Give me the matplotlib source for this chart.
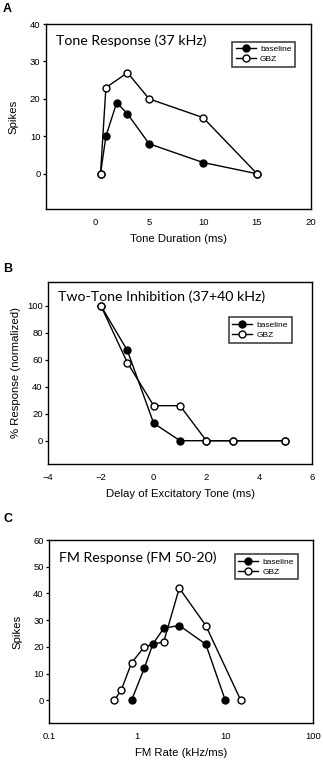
import numpy as np
import matplotlib
matplotlib.use('Agg')
import matplotlib.pyplot as plt

plt.rcParams['font.family'] = ['Liberation Sans', 'DejaVu Sans']

# panel A: tone duration
dur_base = [0.5, 1, 2, 3, 5, 10, 15]
spk_base_a = [0, 10, 19, 16, 8, 3, 0]
dur_gbz = [0.5, 1, 3, 5, 10, 15]
spk_gbz_a = [0, 23, 27, 20, 15, 0]

# panel B: two-tone inhibition
delay_base = [-2, -1, 0, 1, 2, 3, 5]
resp_base = [100, 67, 13, 0, 0, 0, 0]
delay_gbz = [-2, -1, 0, 1, 2, 3, 5]
resp_gbz = [100, 58, 26, 26, 0, 0, 0]

# panel C: FM rate
fm_base = [0.86, 1.2, 1.5, 2, 3, 6, 10]
spk_base_c = [0, 12, 21, 27, 28, 21, 0]
fm_gbz = [0.55, 0.66, 0.86, 1.2, 2, 3, 6, 15]
spk_gbz_c = [0, 4, 14, 20, 22, 42, 28, 0]

W, H = 323, 764
fig = plt.figure(figsize=(W / 100, H / 100), dpi=100)


def box(l, t, r, b):
    return [l / W, 1 - b / H, (r - l) / W, (b - t) / H]


def draw(ax, xb, yb, xg, yg, title, ty, leg_anchor):
    ax.plot(xb, yb, '-o', color='black', mfc='black', mec='black',
            ms=5, lw=1.0, label='baseline', zorder=3)
    ax.plot(xg, yg, '-o', color='black', mfc='white', mec='black',
            ms=5, lw=1.0, mew=1.0, label='GBZ', zorder=4)
    ax.text(0.038, ty, title, transform=ax.transAxes, fontsize=10.2,
            family='Lato', va='center', ha='left')
    leg = ax.legend(loc='upper right', bbox_to_anchor=leg_anchor, fontsize=6,
                    frameon=True, fancybox=False, edgecolor='black',
                    handlelength=2.4, handletextpad=0.5, borderpad=0.45,
                    labelspacing=0.25, markerscale=1.0)
    leg.get_frame().set_linewidth(1.1)
    for s in ax.spines.values():
        s.set_linewidth(1.0)
    ax.tick_params(axis='y', direction='out', length=2, width=0.9,
                   labelsize=6.8, pad=2)
    ax.tick_params(axis='x', length=0, labelsize=6.8, pad=6)
    ax.tick_params(which='minor', length=0)


axA = fig.add_axes(box(46, 24, 311, 209.3))
draw(axA, dur_base, spk_base_a, dur_gbz, spk_gbz_a,
     'Tone Response (37 kHz)', 0.91, (0.956, 0.928))
axA.set_xlim(-4.55, 20)
axA.set_ylim(-9.5, 40)
axA.set_xticks([0, 5, 10, 15, 20])
axA.set_yticks([0, 10, 20, 30, 40])
axA.set_xlabel('Tone Duration (ms)', fontsize=8.2, labelpad=5)
axA.set_ylabel('Spikes', fontsize=8.2, labelpad=8)

axB = fig.add_axes(box(48.3, 281.7, 311.7, 464.3))
draw(axB, delay_base, resp_base, delay_gbz, resp_gbz,
     'Two-Tone Inhibition (37+40 kHz)', 0.918, (0.94, 0.827))
axB.set_xlim(-4, 6)
axB.set_ylim(-17.5, 118)
axB.set_xticks([-4, -2, 0, 2, 4, 6])
axB.set_yticks([0, 20, 40, 60, 80, 100])
axB.set_xlabel('Delay of Excitatory Tone (ms)', fontsize=8.2, labelpad=5)
axB.set_ylabel('% Response (normalized)', fontsize=8.2, labelpad=4)

axC = fig.add_axes(box(49.3, 540, 313.3, 723.3))
draw(axC, fm_base, spk_base_c, fm_gbz, spk_gbz_c,
     'FM Response (FM 50-20)', 0.906, (0.957, 0.945))
axC.set_xscale('log')
axC.set_xlim(0.1, 100)
axC.set_ylim(-8.6, 60)
axC.set_xticks([0.1, 1, 10, 100])
axC.set_xticklabels(['0.1', '1', '10', '100'])
axC.set_yticks([0, 10, 20, 30, 40, 50, 60])
axC.set_xlabel('FM Rate (kHz/ms)', fontsize=8.2, labelpad=5)
axC.set_ylabel('Spikes', fontsize=8.2, labelpad=8)

for lab, y in [('A', 9), ('B', 269), ('C', 519)]:
    fig.text(3 / W, 1 - y / H, lab, fontsize=9, fontweight='bold',
             va='center', ha='left')

fig.savefig('out.png', dpi=100)
